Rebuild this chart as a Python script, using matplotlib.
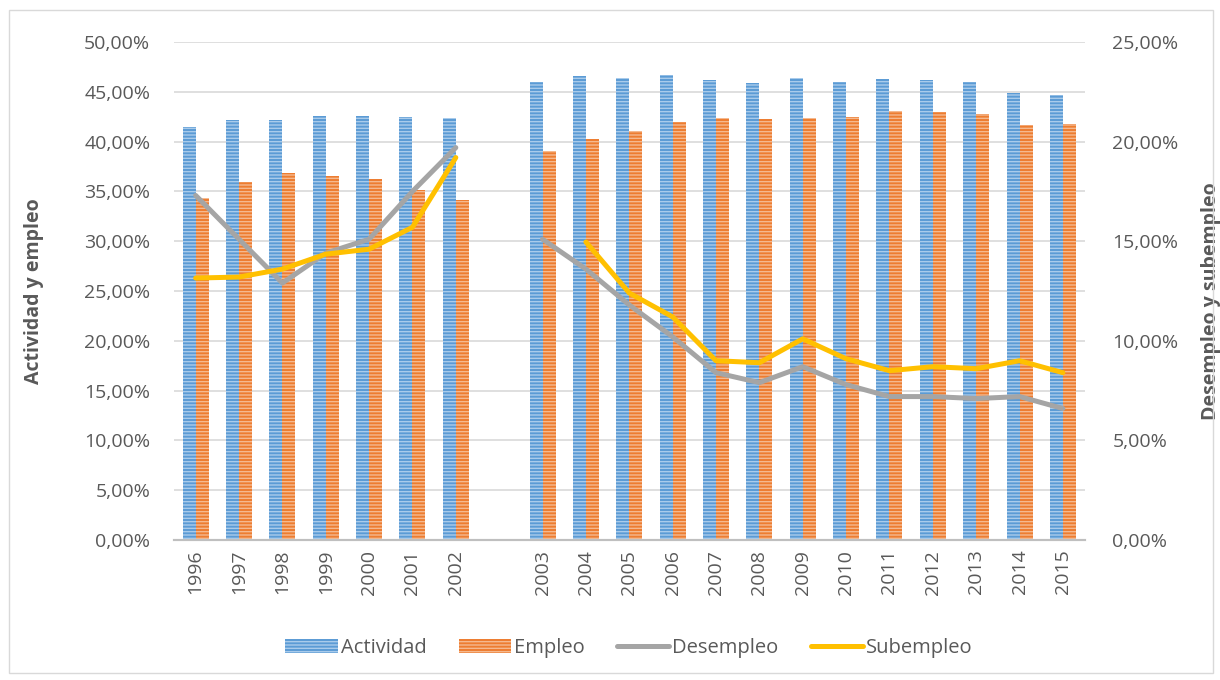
import numpy as np
import matplotlib.pyplot as plt
from matplotlib.ticker import FuncFormatter, MultipleLocator
from matplotlib.patches import Patch, Rectangle
from matplotlib.lines import Line2D

plt.rcParams['font.family'] = ['Open Sans', 'DejaVu Sans']
plt.rcParams['hatch.linewidth'] = 1.0

# an empty slot separates the 1996-2002 series from the 2003-2015 one
years = ['1996', '1997', '1998', '1999', '2000', '2001', '2002', '',
         '2003', '2004', '2005', '2006', '2007', '2008', '2009', '2010',
         '2011', '2012', '2013', '2014', '2015']
actividad = [41.5, 42.2, 42.2, 42.6, 42.6, 42.5, 42.4, np.nan,
             46.0, 46.6, 46.4, 46.7, 46.2, 45.9, 46.4, 46.0,
             46.3, 46.2, 46.0, 44.9, 44.7]
empleo = [34.3, 35.9, 36.8, 36.5, 36.2, 35.1, 34.1, np.nan,
          39.1, 40.3, 41.1, 42.0, 42.4, 42.3, 42.4, 42.5,
          43.1, 43.0, 42.8, 41.7, 41.8]
desempleo = [17.3, 15.1, 12.9, 14.4, 15.1, 17.5, 19.7, np.nan,
             15.1, 13.6, 11.8, 10.2, 8.4, 7.9, 8.7, 7.8,
             7.2, 7.2, 7.1, 7.2, 6.6]
subempleo = [13.15, 13.2, 13.6, 14.35, 14.6, 15.7, 19.2, np.nan,
             np.nan, 14.96, 12.4, 11.2, 9.0, 8.9, 10.1, 9.1,
             8.5, 8.7, 8.6, 9.0, 8.4]

c_act, c_act_h = '#5B9BD5', '#A9CBEB'
c_emp, c_emp_h = '#ED7D31', '#F5B98F'
c_des = '#A5A5A5'
c_sub = '#FFC000'
txt = '#595959'
fs = 14

fig = plt.figure(figsize=(12.2, 6.8), dpi=100)
fig.patches.append(Rectangle((0.007, 0.01), 0.987, 0.975, transform=fig.transFigure,
                             fill=False, edgecolor='#D9D9D9', lw=1))
ax = fig.add_axes([0.1426, 0.2059, 0.7464, 0.7323])
ax2 = ax.twinx()

x = np.arange(len(years))
w = 0.3
ax.bar(x - w / 2, actividad, w, color=c_act, edgecolor=c_act_h, linewidth=0,
       hatch='-----', zorder=2)
ax.bar(x + w / 2, empleo, w, color=c_emp, edgecolor=c_emp_h, linewidth=0,
       hatch='-----', zorder=2)

ax2.plot(x, desempleo, color=c_des, lw=3.6, solid_capstyle='round', zorder=3)
ax2.plot(x, subempleo, color=c_sub, lw=3.6, solid_capstyle='round', zorder=4)

pct = FuncFormatter(lambda v, p: f'{v:.2f}%'.replace('.', ','))
ax.set_ylim(0, 50)
ax.yaxis.set_major_locator(MultipleLocator(5))
ax.yaxis.set_major_formatter(pct)
ax2.set_ylim(0, 25)
ax2.yaxis.set_major_locator(MultipleLocator(5))
ax2.yaxis.set_major_formatter(pct)

ax.set_xlim(-0.5, len(years) - 0.5)
ax.set_xticks(x)
ax.set_xticklabels(years, rotation=90)
ax.grid(axis='y', color='#D9D9D9', lw=1.2, zorder=0)
ax.set_axisbelow(True)

for a in (ax, ax2):
    for s in ('top', 'left', 'right'):
        a.spines[s].set_visible(False)
    a.spines['bottom'].set_color('#BFBFBF')
    a.spines['bottom'].set_linewidth(1.5)
    a.tick_params(length=0, labelsize=fs, labelcolor=txt)
ax.tick_params(axis='y', pad=17)
ax2.tick_params(axis='y', pad=20)
ax.tick_params(axis='x', pad=7)

ax.set_ylabel('Actividad y empleo', fontsize=fs, fontweight='bold', color=txt)
ax.yaxis.set_label_coords(-0.143, 0.5)
ax2.set_ylabel('Desempleo y subempleo', fontsize=fs, fontweight='bold', color=txt,
               rotation=90)
ax2.yaxis.set_label_coords(1.128, 0.48)

handles = [Patch(facecolor=c_act, edgecolor=c_act_h, linewidth=0, hatch='-----'),
           Patch(facecolor=c_emp, edgecolor=c_emp_h, linewidth=0, hatch='-----'),
           Line2D([], [], color=c_des, lw=3.6, solid_capstyle='round'),
           Line2D([], [], color=c_sub, lw=3.6, solid_capstyle='round')]
fig.legend(handles, ['Actividad', 'Empleo', 'Desempleo', 'Subempleo'],
           loc='center', bbox_to_anchor=(0.5156, 0.047), ncol=4, frameon=False,
           fontsize=14.5, labelcolor=txt, handlelength=2.6, handletextpad=0.15,
           columnspacing=1.6)

fig.savefig('out.png', dpi=100)
